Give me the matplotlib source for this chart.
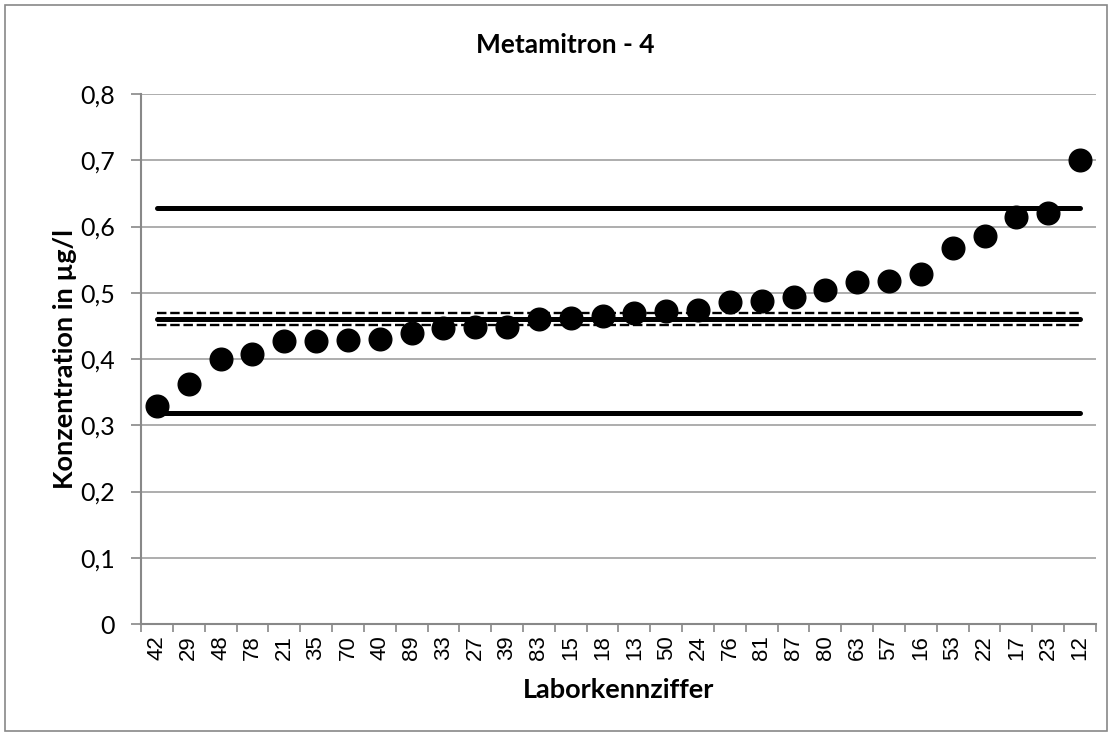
import matplotlib.pyplot as plt
import numpy as np
from matplotlib.patches import Rectangle

# Laborkennziffern und Messwerte (sortiert)
labore = ['42', '29', '48', '78', '21', '35', '70', '40', '89', '33', '27', '39', '83', '15',
          '18', '13', '50', '24', '76', '81', '87', '80', '63', '57', '16', '53', '22', '17',
          '23', '12']
werte = [0.329, 0.362, 0.400, 0.408, 0.427, 0.427, 0.429, 0.430, 0.439, 0.447, 0.448, 0.448,
         0.460, 0.462, 0.465, 0.470, 0.472, 0.474, 0.486, 0.487, 0.494, 0.504, 0.516, 0.518,
         0.528, 0.567, 0.586, 0.614, 0.620, 0.701]

# Referenzwerte
mittelwert = 0.460
obere_grenze = 0.628
untere_grenze = 0.318
vb_oben = 0.469
vb_unten = 0.451

yticks = [0, 0.1, 0.2, 0.3, 0.4, 0.5, 0.6, 0.7, 0.8]
ytick_labels = ['0', '0,1', '0,2', '0,3', '0,4', '0,5', '0,6', '0,7', '0,8']

fig = plt.figure(figsize=(11.14, 7.35), dpi=100)
ax = fig.add_axes([0.1266, 0.151, 0.8572, 0.7211])

# Rahmen um das Diagramm
fig.patches.append(Rectangle((5 / 1114, 4 / 735), 1102 / 1114, 726 / 735, transform=fig.transFigure,
                             fill=False, edgecolor='#888888', linewidth=1.2))

x = np.arange(len(labore))
n = len(labore)

# Grenz- und Mittelwertlinien
ax.plot(x, [obere_grenze] * n, color='black', linewidth=3.6, solid_capstyle='round', zorder=3)
ax.plot(x, [untere_grenze] * n, color='black', linewidth=3.6, solid_capstyle='round', zorder=3)
ax.plot(x, [mittelwert] * n, color='black', linewidth=3.6, solid_capstyle='round', zorder=3)
ax.plot(x, [vb_oben] * n, color='black', linewidth=1.7, dashes=(4, 1.6), zorder=3)
ax.plot(x, [vb_unten] * n, color='black', linewidth=1.7, dashes=(4, 1.6), zorder=3)

# Messwerte
ax.plot(x, werte, linestyle='none', marker='o', markersize=16.3, color='black', zorder=4)

ax.set_xlim(-0.5, n - 0.5)
ax.set_ylim(0, 0.8)
ax.set_yticks(yticks)
ax.set_yticklabels(ytick_labels, fontname='Lato', fontsize=18)
ax.set_xticks(x)
ax.set_xticklabels(labore, rotation=90, fontname='Liberation Sans', fontsize=16)
ax.set_xticks(np.arange(-0.5, n, 1), minor=True)
ax.tick_params(axis='x', which='major', length=0, pad=8)
ax.tick_params(axis='x', which='minor', length=6, color='#888888', width=1.2)
ax.tick_params(axis='y', length=7, color='#888888', width=1.2, pad=12)

ax.grid(axis='y', color='#a0a0a0', linewidth=1.2)
ax.set_axisbelow(True)
for s in ['top', 'right']:
    ax.spines[s].set_visible(False)
for s in ['left', 'bottom']:
    ax.spines[s].set_color('#888888')
    ax.spines[s].set_linewidth(1.5)

# Titel ist auf das ganze Diagramm zentriert, nicht auf die Achse
fig.text(565 / 1114, 1 - 53 / 735, 'Metamitron - 4', ha='center', va='baseline',
         fontname='Lato', fontweight='bold', fontsize=19)
ax.set_ylabel('Konzentration in µg/l', fontname='Lato', fontweight='bold', fontsize=19.5)
ax.set_xlabel('Laborkennziffer', fontname='Lato', fontweight='bold', fontsize=19.5)
ax.yaxis.set_label_coords(-0.067, 0.5)
ax.xaxis.set_label_coords(0.5, -0.102)

plt.savefig('out.png', dpi=100)
